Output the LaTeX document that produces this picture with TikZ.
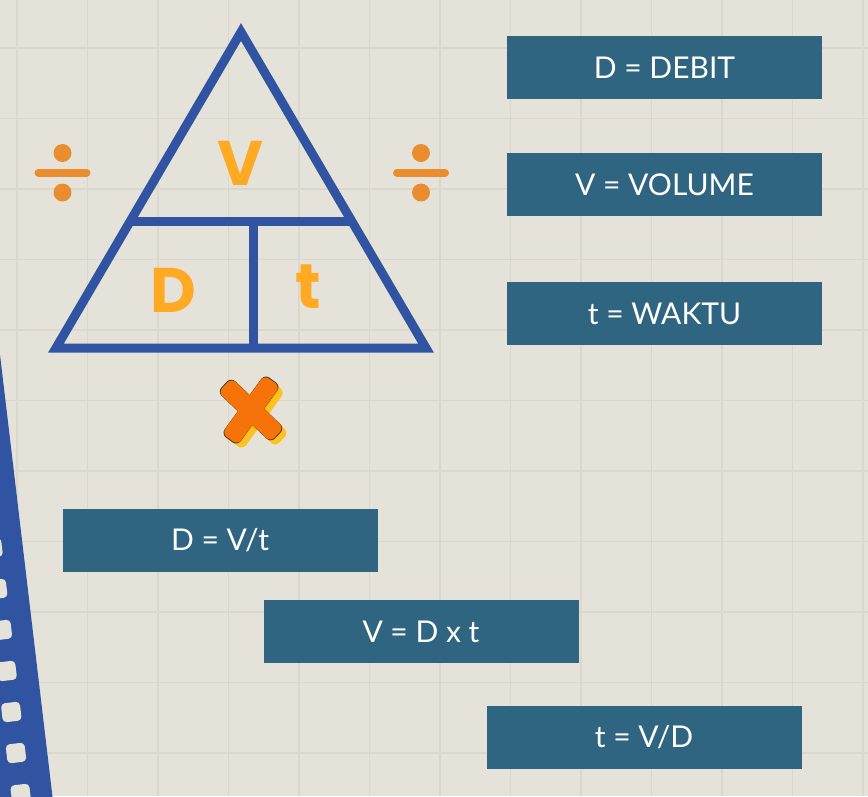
\documentclass[tikz,border=0pt]{standalone}
\usepackage{fontspec}
\setmainfont{Poppins}
\newfontfamily\boxfont{Lato}
\newfontfamily\letterfont{Poppins}
\definecolor{paper}{HTML}{E5E3D9}
\definecolor{gridc}{HTML}{DAD7CC}
\definecolor{boxblue}{HTML}{2F6581}
\definecolor{triblue}{HTML}{3054A1}
\definecolor{letterorange}{HTML}{FFAA22}
\definecolor{divorange}{HTML}{E98D2F}
\definecolor{xorange}{HTML}{F57308}
\definecolor{xyellow}{HTML}{FFC11E}
\definecolor{xdark}{HTML}{5A3A12}
\begin{document}
\begin{tikzpicture}[x=1pt,y=-1pt,
  lbl/.style={fill=boxblue, text=white, minimum width=315pt, minimum height=63pt, inner sep=0pt,
    font=\boxfont\fontsize{30}{30}\selectfont},
  tri/.style={draw=triblue, line width=9pt, miter limit=20},
  bigletter/.style={text=letterorange, inner sep=0pt, font=\letterfont\bfseries\fontsize{63}{63}\selectfont},
  divbar/.style={draw=divorange, line width=8pt, line cap=round},
  divdot/.style={fill=divorange},
  hole/.style={fill=paper, rounded corners=4pt, minimum width=19pt, minimum height=19pt, inner sep=0pt, rotate=6.7},
  xarm/.style={rounded corners=6pt, minimum width=#1, minimum height=#1*0.27, inner sep=0pt},
  xarm/.default=72pt
]
\useasboundingbox (0,0) rectangle (868,796);
\clip (0,0) rectangle (868,796);
% paper
\fill[paper] (0,0) rectangle (868,796);
\foreach \k in {0,...,12} {
  \draw[gridc, line width=1.2pt] ({17+70.5*\k},0) -- ({17+70.5*\k},796);
  \draw[gridc, line width=1.2pt] (0,{48+70.5*\k}) -- (868,{48+70.5*\k});
}
% film strip
\fill[triblue] (-100,-10) -- (-43.3,-10) -- (53.6,806) -- (-100,806) -- cycle;
\foreach \k in {0,...,6} {
  \node[hole] (hole\k) at ({-7.5+4.7*\k},{548+41*\k}) {};
}
% triangle
\coordinate (apex) at (241,32);
\coordinate (bl) at (56,348);
\coordinate (br) at (426,348);
\coordinate (barl) at (130.4,221);
\coordinate (barr) at (351.6,221);
\coordinate (vtop) at (253,221);
\coordinate (vbot) at (253,348);
\draw[tri] (apex) -- (bl) -- (br) -- cycle;
\draw[tri] (barl) -- (barr);
\draw[tri] (vtop) -- (vbot);
\node[bigletter] (lv) at (240,163) {V};
\node[bigletter] (ld) at (173,290) {D};
\node[bigletter] (lt) at (308,287) {t};
% division signs
\foreach \cx/\nm in {62.5/dl, 421/dr} {
  \draw[divbar] (\cx-24,172.5) -- (\cx+24,172.5);
  \fill[divdot] (\cx,153) circle (9pt);
  \fill[divdot] (\cx,192.5) circle (9pt);
}
% multiplication mark
\coordinate (xc) at (251,410);
\node[xarm, fill=xyellow, rotate=-43.6] (xsa) at ([shift={(5,5)}]xc) {};
\node[xarm, fill=xyellow, rotate=54] (xsb) at ([shift={(5,5)}]xc) {};
\node[xarm=74pt, fill=xdark, rotate=-43.6] (xoa) at (xc) {};
\node[xarm=74pt, fill=xdark, rotate=54] (xob) at (xc) {};
\node[xarm, fill=xorange, rotate=-43.6] (xa) at (xc) {};
\node[xarm, fill=xorange, rotate=54] (xb) at (xc) {};
% boxes
\node[lbl] (debit) at (664.5,67.5) {D = DEBIT\hspace{12pt}};
\node[lbl] (volume) at (664.5,184.5) {V = VOLUME\hspace{14pt}};
\node[lbl] (waktu) at (664.5,313.5) {t = WAKTU\hspace{9pt}};
\node[lbl] (fd) at (220,540.5) {D = V/t};
\node[lbl] (fv) at (421,631.5) {V = D x t};
\node[lbl] (ft) at (644,737.5) {t = V/D};
\end{tikzpicture}
\end{document}
